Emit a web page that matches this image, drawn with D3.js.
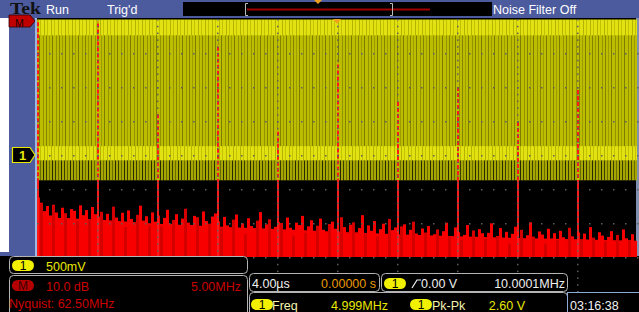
<!DOCTYPE html>
<html><head><meta charset="utf-8">
<script src="https://cdn.jsdelivr.net/npm/d3@7"></script>
<style>
body{margin:0;background:#000;}
svg{display:block;}
text{font-family:"Liberation Sans",Arial,sans-serif;font-size:12.5px;}
</style></head><body>
<svg id="scope" width="639" height="312"></svg>
<script>
// FFT harmonics (MHz) and their levels (dB)
var peakFreqs = [0, 5, 10, 15, 20, 25, 30, 35, 40, 45];
var peakDb = [19.6, 19.3, -7.4, 12.4, -12.6, 7.2, -3.8, 0.6, -9.7, -0.3];

// solid part of the noise floor
var floorFreqs = [0, 5, 10, 15, 20, 25, 30, 35, 40, 45, 50];
var floorDb = [-38.2, -39.0, -40.2, -41.0, -41.8, -42.6, -43.3, -43.9, -44.4, -44.8, -45.2];

// noise bins, 0.25 MHz apart starting at 0 MHz
var noiseDb = [
  -32.5,-34.0,-36.5,-35.0,-37.8,-34.6,-36.9,-39.2,-35.5,-37.1,-38.6,-35.9,-36.4,-39.5,-34.8,-37.7,-36.2,-38.9,-35.3,-37.4,
  -38.1,-36.7,-39.8,-37.3,-40.5,-35.2,-38.4,-39.9,-37.0,-41.2,-36.3,-38.8,-40.1,-37.6,-34.9,-39.3,-38.0,-40.8,-36.9,-39.6,
  -37.8,-41.0,-38.5,-36.1,-40.3,-39.1,-37.4,-41.5,-38.7,-35.8,-39.9,-40.6,-37.9,-38.3,-41.8,-36.6,-39.4,-40.2,-38.1,-37.2,
  -39.5,-41.3,-38.2,-40.7,-42.4,-39.0,-37.5,-41.9,-40.1,-43.2,-38.6,-40.9,-41.6,-39.3,-36.8,-42.7,-40.4,-38.9,-43.5,-41.1,
  -39.7,-40.0,-42.2,-38.4,-41.4,-43.8,-39.9,-40.6,-37.9,-42.9,-41.0,-39.2,-43.1,-40.8,-38.7,-42.0,-44.2,-40.3,-39.6,-41.7,
  -42.5,-38.3,-41.2,-43.6,-40.5,-39.8,-42.8,-41.5,-37.7,-43.0,-40.7,-42.3,-39.4,-44.0,-41.8,-40.2,-43.4,-38.8,-42.1,-41.3,
  -43.7,-41.0,-40.4,-44.5,-42.0,-39.6,-43.1,-45.2,-41.6,-42.8,-40.9,-44.1,-43.3,-41.9,-45.6,-42.4,-39.9,-43.9,-44.8,-41.3,
  -42.7,-45.0,-43.5,-40.6,-44.3,-42.2,-46.0,-41.8,-43.0,-44.7,-42.9,-40.1,-45.3,-43.8,-41.5,-44.9,-42.6,-46.2,-43.2,-41.1,
  -44.4,-42.0,-45.8,-43.6,-39.8,-44.0,-45.5,-42.5,-43.4,-46.1,-41.7,-44.6,-43.0,-45.1,-42.3,-44.2,-46.4,-41.4,-43.9,-45.7,
  -42.8,-44.8,-43.1,-45.9,-41.2,-44.3,-46.3,-42.7,-43.7,-45.4,-44.1,-42.4,-45.6,-43.5,-46.6,-41.9,-44.5,-45.0,-43.3,-46.0
];
var noiseStep = 0.25;

// channel 1 trace bands (V): top, end of bright top band, low band top, low band bottom, bottom
var ch1Levels = [1.99, 1.76, 0.13, -0.08, -0.37];

var topLabels = ["Run", "Trig'd", "Noise Filter Off"];

var svg = d3.select("#scope");
var plot = {left: 37, right: 637, top: 19, bottom: 291};

var xFreq = d3.scaleLinear().domain([0, 50]).range([plot.left, plot.right]);
var xTime = d3.scaleLinear().domain([-20, 20]).range([plot.left, plot.right]);
var yDb = d3.scaleLinear().domain([-60, 20]).range([plot.bottom, plot.top]);
var yVolt = d3.scaleLinear().domain([-2, 2]).range([plot.bottom, plot.top]);

var defs = svg.append("defs");
function stripes(id, w, base, lines) {
    var p = defs.append("pattern").attr("id", id).attr("patternUnits", "userSpaceOnUse")
        .attr("width", w).attr("height", 4);
    p.append("rect").attr("width", w).attr("height", 4).attr("fill", base);
    lines.forEach(function(l) {
        p.append("rect").attr("x", l[0]).attr("width", l[1]).attr("height", 4).attr("fill", l[2]);
    });
}
stripes("ylw", 13, "#bdbd00", [[0, 1, "#7c7c00"], [4, 1, "#939300"], [7, 1, "#848400"], [10, 1, "#9c9c00"]]);
stripes("ylw2", 7, "#e2e212", [[2, 1, "#b4b400"], [5, 1, "#c2c200"]]);
stripes("ylw3", 9, "#a6a600", [[1, 1, "#3c3c00"], [4, 1, "#6a6a00"], [7, 1, "#2a2a00"]]);

// frame
svg.append("rect").attr("width", 639).attr("height", 312).attr("fill", "#000");
svg.append("rect").attr("x", 0).attr("y", 0).attr("width", 639).attr("height", 18).attr("fill", "#4c5a9e");
svg.append("rect").attr("x", 0).attr("y", 0).attr("width", 36).attr("height", 256).attr("fill", "#4c5a9e");
svg.append("rect").attr("x", 0).attr("y", 18).attr("width", 9).attr("height", 234).attr("fill", "#fff");
svg.append("rect").attr("x", 35).attr("y", 18).attr("width", 2).attr("height", 238).attr("fill", "#9db8e0");
svg.append("rect").attr("x", 636).attr("y", 18).attr("width", 3).attr("height", 238).attr("fill", "#8090b0");

// channel 1 trace
var g1 = svg.append("g");
function band(vTop, vBot, fill) {
    g1.append("rect").attr("x", plot.left).attr("width", plot.right - plot.left)
        .attr("y", yVolt(vTop)).attr("height", yVolt(vBot) - yVolt(vTop)).attr("fill", fill);
}
band(ch1Levels[0], ch1Levels[4], "url(#ylw)");
band(ch1Levels[0], ch1Levels[1], "url(#ylw2)");
band(ch1Levels[2], ch1Levels[3], "url(#ylw2)");
band(ch1Levels[3], ch1Levels[4], "url(#ylw3)");

// FFT
var gf = svg.append("g");
var floorArea = d3.area().x(function(d, i) { return xFreq(floorFreqs[i]); })
    .y0(yDb(-50)).y1(function(d) { return yDb(d); });
gf.append("path").datum(floorDb).attr("d", floorArea).attr("fill", "#f40000");
var bw = xFreq(noiseStep) - xFreq(0);
gf.selectAll("rect.noise").data(noiseDb).enter().append("rect").attr("class", "noise")
    .attr("x", function(d, i) { return xFreq(i * noiseStep); })
    .attr("width", bw)
    .attr("y", function(d) { return yDb(d); })
    .attr("height", function(d) { return yDb(-50) - yDb(d); })
    .attr("fill", function(d, i) { return i % 4 == 1 ? "#d40000" : "#f80000"; });
gf.selectAll("line.peak").data(peakDb).enter().append("line").attr("class", "peak")
    .attr("x1", function(d, i) { return xFreq(peakFreqs[i]) + 1; })
    .attr("x2", function(d, i) { return xFreq(peakFreqs[i]) + 1; })
    .attr("y1", function(d) { return yDb(d); })
    .attr("y2", yDb(-50))
    .attr("stroke", "#ff1a1a").attr("stroke-width", 2);
// the red lines look broken where they cross the yellow trace
gf.selectAll("line.peakover").data(peakDb).enter().append("line").attr("class", "peakover")
    .attr("x1", function(d, i) { return xFreq(peakFreqs[i]) + 1; })
    .attr("x2", function(d, i) { return xFreq(peakFreqs[i]) + 1; })
    .attr("y1", function(d) { return Math.max(yDb(d), yVolt(ch1Levels[0])); })
    .attr("y2", function(d) { return Math.max(yDb(d), yVolt(ch1Levels[4])); })
    .attr("stroke", "#bdbd00").attr("stroke-width", 2).attr("stroke-dasharray", "2,4");

// graticule dots
var gg = svg.append("g").attr("fill", "#5e5e5e");
var vRows = d3.range(-1.5, 1.51, 0.5);
var tCols = d3.range(-16, 16.1, 4);
vRows.forEach(function(v) {
    d3.range(-20, 20.01, 0.8).forEach(function(t) {
        gg.append("rect").attr("x", xTime(t)).attr("y", yVolt(v)).attr("width", 1.5).attr("height", 1.5);
    });
});
tCols.forEach(function(t) {
    d3.range(-2, 2.01, 0.1).forEach(function(v) {
        gg.append("rect").attr("x", xTime(t)).attr("y", yVolt(v)).attr("width", 1.5).attr("height", 1.5);
    });
});

// trigger position marker
svg.append("path").attr("d", "M" + (xTime(0) - 4) + ",19L" + (xTime(0) + 4) + ",19L" + xTime(0) + ",24Z").attr("fill", "#f0a020");

// top status bar
svg.append("text").attr("x", 10).attr("y", 14).attr("fill", "#111").attr("textLength", 31).attr("lengthAdjust", "spacingAndGlyphs")
    .style("font-family", "'Liberation Serif',serif").style("font-size", "16px").style("font-weight", "bold").text("Tek");
svg.append("text").attr("x", 46).attr("y", 14).attr("fill", "#fff").text(topLabels[0]);
svg.append("text").attr("x", 107).attr("y", 14).attr("fill", "#fff").text(topLabels[1]);
svg.append("text").attr("x", 493).attr("y", 14).attr("fill", "#fff").text(topLabels[2]);
svg.append("rect").attr("x", 183).attr("y", 2).attr("width", 309).attr("height", 14).attr("fill", "#000");
svg.append("line").attr("x1", 247).attr("x2", 430).attr("y1", 9.5).attr("y2", 9.5).attr("stroke", "#a00000").attr("stroke-width", 2);
svg.append("path").attr("d", "M248,3.5H245.5V15.5H248M390,3.5H392.5V15.5H390").attr("fill", "none").attr("stroke", "#bbb").attr("stroke-width", 1);
svg.append("path").attr("d", "M314,0H322L318,4Z").attr("fill", "#f0a020");

// M marker and ch1 marker
svg.append("path").attr("d", "M9,15H30L35,21L30,27H9Z").attr("fill", "#c00000").attr("stroke", "#300").attr("stroke-width", 0.8);
svg.append("text").attr("x", 15).attr("y", 27).attr("fill", "#200").style("font-size", "10.5px").text("M");
var y0 = yVolt(0);
svg.append("path").attr("d", "M12.5," + (y0 - 7.5) + "H30L35," + y0 + "L30," + (y0 + 7.5) + "H12.5Z")
    .attr("fill", "#000").attr("stroke", "#e8e800").attr("stroke-width", 1.2);
svg.append("text").attr("x", 19).attr("y", y0 + 5).attr("fill", "#e8e800").style("font-size", "13px").style("font-weight", "bold").text("1");

// bottom readouts
function box(x0, y0, x1, y1, col) {
    svg.append("rect").attr("x", x0).attr("y", y0).attr("width", x1 - x0).attr("height", y1 - y0)
        .attr("rx", 4).attr("fill", "#000").attr("stroke", col || "#b4b4b4").attr("stroke-width", 1);
}
function pill(x, y, label, fill, col) {
    svg.append("rect").attr("x", x).attr("y", y).attr("width", 22).attr("height", 11).attr("rx", 5.5).attr("fill", fill);
    svg.append("text").attr("x", x + 11).attr("y", y + 10).attr("text-anchor", "middle").attr("fill", col).style("font-size", "12px").text(label);
}
function txt(x, y, s, col, anchor) {
    svg.append("text").attr("x", x).attr("y", y).attr("fill", col).attr("text-anchor", anchor || "start").text(s);
}
box(9.5, 256.5, 247.5, 273.5);
box(9.5, 275.5, 247.5, 330);
box(249.5, 273.5, 379.5, 291.5);
box(381.5, 273.5, 567.5, 291.5);
box(249.5, 292.5, 567.5, 330);
svg.append("rect").attr("x", 567.5).attr("y", 292.5).attr("width", 80).attr("height", 40).attr("fill", "#000").attr("stroke", "#8fa8d8");

pill(12, 260, "1", "#f0f000", "#000");
txt(46, 271, "500mV", "#e8e800");
pill(12, 280, "M", "#b40000", "#3a0000");
txt(46, 291, "10.0 dB", "#cc0000");
txt(241, 291, "5.00MHz", "#cc0000", "end");
txt(9, 308, "Nyquist: 62.50MHz", "#cc0000");
txt(252, 288, "4.00\u00b5s", "#f0f0f0");
txt(376, 288, "0.00000 s", "#e89a00", "end");
pill(384, 278, "1", "#f0f000", "#000");
svg.append("path").attr("d", "M412,288L417,280H421").attr("fill", "none").attr("stroke", "#f0f0f0").attr("stroke-width", 1.2);
txt(421, 288, "0.00 V", "#f0f0f0");
txt(565, 288, "10.0001MHz", "#f0f0f0", "end");
pill(251, 299, "1", "#f0f000", "#000");
txt(272, 310, "Freq", "#f4f4b0");
txt(388, 310, "4.999MHz", "#e8e800", "end");
pill(410, 299, "1", "#f0f000", "#000");
txt(432, 310, "Pk-Pk", "#f4f4b0");
txt(525, 310, "2.60 V", "#e8e800", "end");
txt(570, 310, "03:16:38", "#f0f0f0");
</script>
</body></html>
